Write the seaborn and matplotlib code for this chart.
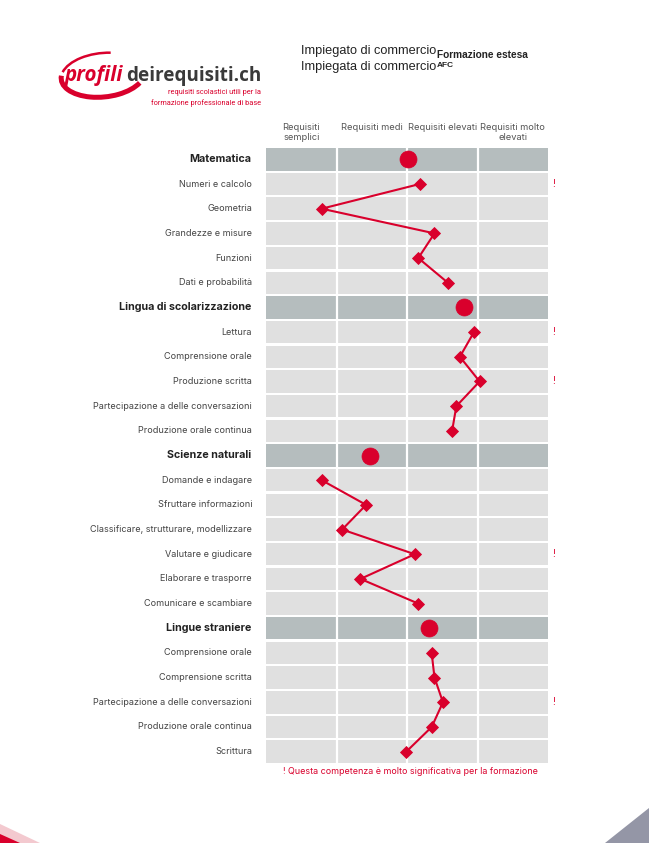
import matplotlib
matplotlib.use("Agg")
import matplotlib.pyplot as plt
import matplotlib.transforms as mtransforms
from matplotlib.patches import Polygon, Arc
from matplotlib.text import Annotation
import seaborn as sns
import pandas as pd

# ---------------- data ----------------
groups = ["Matematica", "Lingua di scolarizzazione", "Scienze naturali", "Lingue straniere"]
group_values = [2.02, 2.81, 1.48, 2.31]

mat_items = ["Numeri e calcolo", "Geometria", "Grandezze e misure", "Funzioni", "Dati e probabilità"]
mat_values = [2.18, 0.79, 2.39, 2.16, 2.58]
mat_flags = [True, False, False, False, False]

ling_items = ["Lettura", "Comprensione orale", "Produzione scritta",
              "Partecipazione a delle conversazioni", "Produzione orale continua"]
ling_values = [2.95, 2.75, 3.03, 2.70, 2.64]
ling_flags = [True, False, True, False, False]

sci_items = ["Domande e indagare", "Sfruttare informazioni", "Classificare, strutturare, modellizzare",
             "Valutare e giudicare", "Elaborare e trasporre", "Comunicare e scambiare"]
sci_values = [0.79, 1.42, 1.08, 2.11, 1.34, 2.16]
sci_flags = [False, False, False, True, False, False]

str_items = ["Comprensione orale", "Comprensione scritta", "Partecipazione a delle conversazioni",
             "Produzione orale continua", "Scrittura"]
str_values = [2.35, 2.39, 2.51, 2.35, 1.99]
str_flags = [False, False, True, False, False]

column_labels = ["Requisiti\nsemplici", "Requisiti medi", "Requisiti elevati", "Requisiti molto\nelevati"]
title_line1 = "Impiegato di commercio"
title_sub1 = "Formazione estesa"
title_line2 = "Impiegata di commercio"
title_sup2 = "AFC"
footnote = "! Questa competenza è molto significativa per la formazione"
logo_red = "profili"
logo_gray = "deirequisiti.ch"
logo_sub1 = "requisiti scolastici utili per la"
logo_sub2 = "formazione professionale di base"

# ---------------- build table ----------------
sub_items = [mat_items, ling_items, sci_items, str_items]
sub_values = [mat_values, ling_values, sci_values, str_values]
sub_flags = [mat_flags, ling_flags, sci_flags, str_flags]

rows = []
pos = 0
for g, gv, items, vals, flags in zip(groups, group_values, sub_items, sub_values, sub_flags):
    rows.append(dict(label=g, value=gv, kind="group", group=g, flag=False, y=pos + 0.5))
    pos += 1
    for it, v, f in zip(items, vals, flags):
        rows.append(dict(label=it, value=v, kind="item", group=g, flag=f, y=pos + 0.5))
        pos += 1
df = pd.DataFrame(rows)
n_rows = len(df)

# ---------------- figure ----------------
W, H = 649, 843
sns.set_theme(style="white")
plt.rcParams["font.family"] = ["Inter", "DejaVu Sans"]
fig = plt.figure(figsize=(W / 100, H / 100), dpi=100)
fig.patch.set_facecolor("white")


def fx(x):
    return x / W


def fy(y):
    return 1 - y / H


left, right, top, bottom = 266, 548, 147, 764
ax = fig.add_axes([fx(left), fy(bottom), (right - left) / W, (bottom - top) / H])

RED = "#d9002c"
HEAD_GRAY = "#b5bdbe"
ROW_GRAY = "#e0e0e0"
gap = 0.045
for _, r in df.iterrows():
    c = HEAD_GRAY if r.kind == "group" else ROW_GRAY
    ax.axhspan(r.y - 0.5 + gap, r.y + 0.5 - gap, color=c, lw=0, zorder=0)
for xv in [1, 2, 3]:
    ax.axvline(xv, color="white", lw=1.6, zorder=1)

items_df = df[df.kind == "item"]
sns.lineplot(data=items_df, x="value", y="y", units="group", estimator=None, sort=False,
             color=RED, lw=1.5, marker="D", markersize=6.2, markeredgewidth=0.6,
             markeredgecolor=RED, ax=ax, legend=False, zorder=3)
grp_df = df[df.kind == "group"]
sns.scatterplot(data=grp_df, x="value", y="y", color=RED, s=150, edgecolor=RED,
                linewidth=0.5, ax=ax, legend=False, zorder=4)
ax.set_xlim(0, 4)
ax.set_ylim(n_rows, 0)
ax.set_xlabel("")
ax.set_ylabel("")
ax.set_facecolor("white")
for s in ax.spines.values():
    s.set_visible(False)
ax.set_xticks([])
ax.set_yticks([])

# row labels
lab_tr = mtransforms.blended_transform_factory(fig.transFigure, ax.transData)
for _, r in df.iterrows():
    if r.kind == "group":
        ax.text(fx(251), r.y, r.label, transform=lab_tr, ha="right", va="center",
                fontsize=7.7, fontweight="bold", color="#222222")
    else:
        ax.text(fx(252), r.y, r.label, transform=lab_tr, ha="right", va="center",
                fontsize=6.55, color="#444444")
    if r.flag:
        ax.text(fx(554), r.y, "!", transform=lab_tr, ha="center", va="center",
                fontsize=7, color=RED)

# column headers
col_tr = mtransforms.blended_transform_factory(ax.transData, fig.transFigure)
for i, cl in enumerate(column_labels):
    yy = 132.5 if "\n" in cl else 127
    ax.text(i + 0.5, fy(yy), cl, transform=col_tr, ha="center", va="center",
            fontsize=6.7, color="#555555", linespacing=1.05)

# footnote
fig.text(fx(410), fy(771), footnote, ha="center", va="center", fontsize=6.45, color=RED)

# title
TFAM = ["Liberation Sans", "DejaVu Sans"]
t1 = fig.text(fx(301), fy(54), title_line1, ha="left", va="baseline",
              fontsize=9.2, color="#222222", family=TFAM)
fig.add_artist(Annotation(title_sub1, xy=(1, 0), xycoords=t1, xytext=(0.4, -0.9),
                          textcoords="offset points", ha="left", va="baseline",
                          fontsize=7.3, fontweight="bold", color="#222222", family=TFAM))
t2 = fig.text(fx(301), fy(70), title_line2, ha="left", va="baseline",
              fontsize=9.2, color="#222222", family=TFAM)
fig.add_artist(Annotation(title_sup2, xy=(1, 0), xycoords=t2, xytext=(0.4, 4.2),
                          textcoords="offset points", ha="left", va="baseline",
                          fontsize=6.0, fontweight="bold", color="#222222", family=TFAM))

# logo
logo_ax = fig.add_axes([0, 0, 1, 1], zorder=-1)
logo_ax.set_xlim(0, W)
logo_ax.set_ylim(H, 0)
logo_ax.axis("off")
logo_ax.add_patch(Arc((103, 75), 84, 44, angle=-6, theta1=18, theta2=185, color=RED, lw=3.6))
logo_ax.add_patch(Arc((103, 75), 84, 44, angle=-6, theta1=190, theta2=295, color=RED, lw=1.8))
LFAM = ["Open Sans", "DejaVu Sans"]
logo_ax.text(65, 81, logo_red, color=RED, fontsize=14.8, fontweight="bold", style="italic",
             family=LFAM, ha="left", va="baseline")
logo_ax.text(261, 81, logo_gray, color="#3a3a3a", fontsize=13.6, fontweight="bold",
             family=LFAM, ha="right", va="baseline")
NFAM = ["Roboto", "DejaVu Sans"]
logo_ax.text(261, 92, logo_sub1, color=RED, fontsize=5.3, family=NFAM, ha="right", va="center")
logo_ax.text(261, 103, logo_sub2, color=RED, fontsize=5.3, family=NFAM, ha="right", va="center")

# corner decorations
logo_ax.add_patch(Polygon([(0, 824), (40, 843), (0, 843)], closed=True, color="#f3c9cf", lw=0))
logo_ax.add_patch(Polygon([(0, 834), (20, 843), (0, 843)], closed=True, color=RED, lw=0))
logo_ax.add_patch(Polygon([(649, 808), (649, 843), (605, 843)], closed=True, color="#9496a6", lw=0))

fig.savefig("out.png", dpi=100, facecolor="white")
